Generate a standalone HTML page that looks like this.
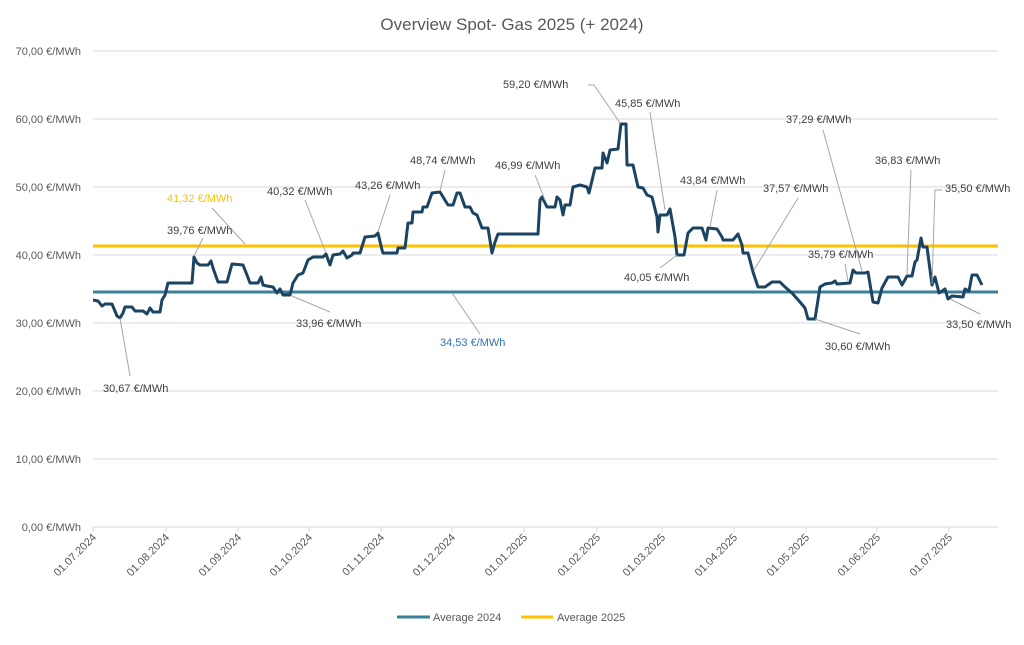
<!DOCTYPE html>
<html><head><meta charset="utf-8"><style>
body{margin:0;background:#fff;}
svg text{font-family:"Liberation Sans",sans-serif;}
</style></head><body>
<svg width="1024" height="640" viewBox="0 0 1024 640" xmlns="http://www.w3.org/2000/svg">
<rect width="1024" height="640" fill="#fff"/>
<text x="512" y="30" font-size="17" fill="#595959" text-anchor="middle">Overview Spot- Gas 2025 (+ 2024)</text>
<g stroke="#d9d9d9" stroke-width="1">
<line x1="93" y1="51" x2="998" y2="51"/><line x1="93" y1="119" x2="998" y2="119"/>
<line x1="93" y1="187" x2="998" y2="187"/><line x1="93" y1="255" x2="998" y2="255"/>
<line x1="93" y1="323" x2="998" y2="323"/><line x1="93" y1="391" x2="998" y2="391"/>
<line x1="93" y1="459" x2="998" y2="459"/><line x1="93" y1="527" x2="998" y2="527"/>
</g>
<g stroke="#d9d9d9" stroke-width="1">
<line x1="93" y1="527" x2="93" y2="532"/><line x1="166" y1="527" x2="166" y2="532"/><line x1="238" y1="527" x2="238" y2="532"/><line x1="309" y1="527" x2="309" y2="532"/><line x1="381" y1="527" x2="381" y2="532"/><line x1="452" y1="527" x2="452" y2="532"/><line x1="524" y1="527" x2="524" y2="532"/><line x1="597" y1="527" x2="597" y2="532"/><line x1="662" y1="527" x2="662" y2="532"/><line x1="734" y1="527" x2="734" y2="532"/><line x1="806" y1="527" x2="806" y2="532"/><line x1="877" y1="527" x2="877" y2="532"/><line x1="949" y1="527" x2="949" y2="532"/>
</g>
<g font-size="11" fill="#595959" text-anchor="end">
<text x="81" y="55">70,00 €/MWh</text><text x="81" y="123">60,00 €/MWh</text><text x="81" y="191">50,00 €/MWh</text><text x="81" y="259">40,00 €/MWh</text><text x="81" y="327">30,00 €/MWh</text><text x="81" y="395">20,00 €/MWh</text><text x="81" y="463">10,00 €/MWh</text><text x="81" y="531">0,00 €/MWh</text>
</g>
<g font-size="11" fill="#595959" text-anchor="end">
<text transform="translate(97,538) rotate(-45)">01.07.2024</text>
<text transform="translate(170,538) rotate(-45)">01.08.2024</text>
<text transform="translate(242,538) rotate(-45)">01.09.2024</text>
<text transform="translate(313,538) rotate(-45)">01.10.2024</text>
<text transform="translate(385,538) rotate(-45)">01.11.2024</text>
<text transform="translate(456,538) rotate(-45)">01.12.2024</text>
<text transform="translate(528,538) rotate(-45)">01.01.2025</text>
<text transform="translate(601,538) rotate(-45)">01.02.2025</text>
<text transform="translate(666,538) rotate(-45)">01.03.2025</text>
<text transform="translate(738,538) rotate(-45)">01.04.2025</text>
<text transform="translate(810,538) rotate(-45)">01.05.2025</text>
<text transform="translate(881,538) rotate(-45)">01.06.2025</text>
<text transform="translate(953,538) rotate(-45)">01.07.2025</text>
</g>
<line x1="93" y1="292" x2="998" y2="292" stroke="#3B8199" stroke-width="3"/>
<line x1="93" y1="246" x2="998" y2="246" stroke="#FFC000" stroke-width="3"/>
<polyline fill="none" stroke="#1B4463" stroke-width="3" stroke-linejoin="round" points="93,300 98,301 102,306 105,304 112,304 117,316 120,318 123,313 125,307 132,307 135,311 143,311 147,314 150,308 153,312 160,312 162,300 165,295 168,283 192,283 194,257 197,263 200,265 208,265 211,261 213,268 218,282 227,282 232,264 243,265 247,275 250,283 258,283 261,277 263,285 267,286 273,287 277,293 280,289 283,295 290,295 293,283 298,275 303,273 308,260 313,257 323,257 326,254 330,265 333,255 340,254 343,251 347,258 352,255 353,253 360,253 365,237 375,236 378,233 382,250 383,253 397,253 398,248 405,248 408,223 412,223 413,212 422,212 423,207 427,207 432,193 440,192 448,205 453,205 457,193 460,193 465,207 470,207 473,213 477,215 482,228 488,228 492,253 495,242 498,234 538,234 540,200 542,197 547,207 555,207 557,197 560,200 563,215 565,205 570,205 573,187 580,185 587,187 589,193 595,168 602,168 603,153 607,163 610,150 618,149 621,124 626,124 627,165 633,165 638,187 643,188 647,195 652,197 657,217 658,232 660,215 667,215 670,209 675,237 677,255 684,255 688,233 693,228 702,228 706,240 708,228 717,229 722,237 723,240 733,240 738,234 742,245 743,253 748,253 753,272 758,287 765,287 772,282 780,282 785,287 792,293 800,302 805,308 808,319 815,319 820,287 825,284 832,283 835,281 837,284 850,283 853,270 856,273 865,273 868,272 873,302 878,303 882,288 888,277 898,277 902,285 907,276 912,276 915,262 917,260 921,238 923,247 927,247 932,285 935,277 939,293 945,289 948,299 952,296 963,297 965,289 969,291 972,275 977,275 982,285"/>
<g stroke="#a6a6a6" stroke-width="1" fill="none">
<line x1="120" y1="318" x2="130" y2="376"/>
<line x1="212" y1="208" x2="245" y2="244"/>
<line x1="203" y1="238" x2="194" y2="256"/>
<line x1="305" y1="200" x2="326" y2="253"/>
<line x1="292" y1="296" x2="330" y2="312"/>
<line x1="390" y1="195" x2="378" y2="232"/>
<line x1="445" y1="170" x2="440" y2="191"/>
<line x1="535" y1="175" x2="545" y2="200"/>
<polyline points="588,85 594,85 620,123"/>
<line x1="650" y1="112" x2="665" y2="210"/>
<line x1="452" y1="293" x2="480" y2="334"/>
<line x1="660" y1="268" x2="677" y2="255"/>
<line x1="717" y1="190" x2="710" y2="227"/>
<line x1="798" y1="198" x2="754" y2="270"/>
<line x1="823" y1="130" x2="862" y2="271"/>
<line x1="845" y1="264" x2="848" y2="281"/>
<line x1="911" y1="170" x2="907" y2="274"/>
<polyline points="942,190 935,190 932,284"/>
<line x1="815" y1="319" x2="860" y2="334"/>
<line x1="950" y1="299" x2="980" y2="314"/>
</g>
<g font-size="11" fill="#404040">
<text x="103" y="392">30,67 €/MWh</text>
<text x="167" y="202" fill="#FFC000">41,32 €/MWh</text>
<text x="167" y="234">39,76 €/MWh</text>
<text x="267" y="195">40,32 €/MWh</text>
<text x="296" y="327">33,96 €/MWh</text>
<text x="355" y="189">43,26 €/MWh</text>
<text x="410" y="164">48,74 €/MWh</text>
<text x="495" y="169">46,99 €/MWh</text>
<text x="503" y="88">59,20 €/MWh</text>
<text x="615" y="107">45,85 €/MWh</text>
<text x="440" y="346" fill="#2E75B6">34,53 €/MWh</text>
<text x="624" y="281">40,05 €/MWh</text>
<text x="680" y="184">43,84 €/MWh</text>
<text x="763" y="192">37,57 €/MWh</text>
<text x="786" y="123">37,29 €/MWh</text>
<text x="808" y="258">35,79 €/MWh</text>
<text x="875" y="164">36,83 €/MWh</text>
<text x="945" y="192">35,50 €/MWh</text>
<text x="825" y="350">30,60 €/MWh</text>
<text x="946" y="328">33,50 €/MWh</text>
</g>
<line x1="397" y1="617" x2="430" y2="617" stroke="#3B8199" stroke-width="3"/>
<text x="433" y="621" font-size="11" fill="#595959">Average 2024</text>
<line x1="521" y1="617" x2="553" y2="617" stroke="#FFC000" stroke-width="3"/>
<text x="557" y="621" font-size="11" fill="#595959">Average 2025</text>
</svg>
</body></html>
